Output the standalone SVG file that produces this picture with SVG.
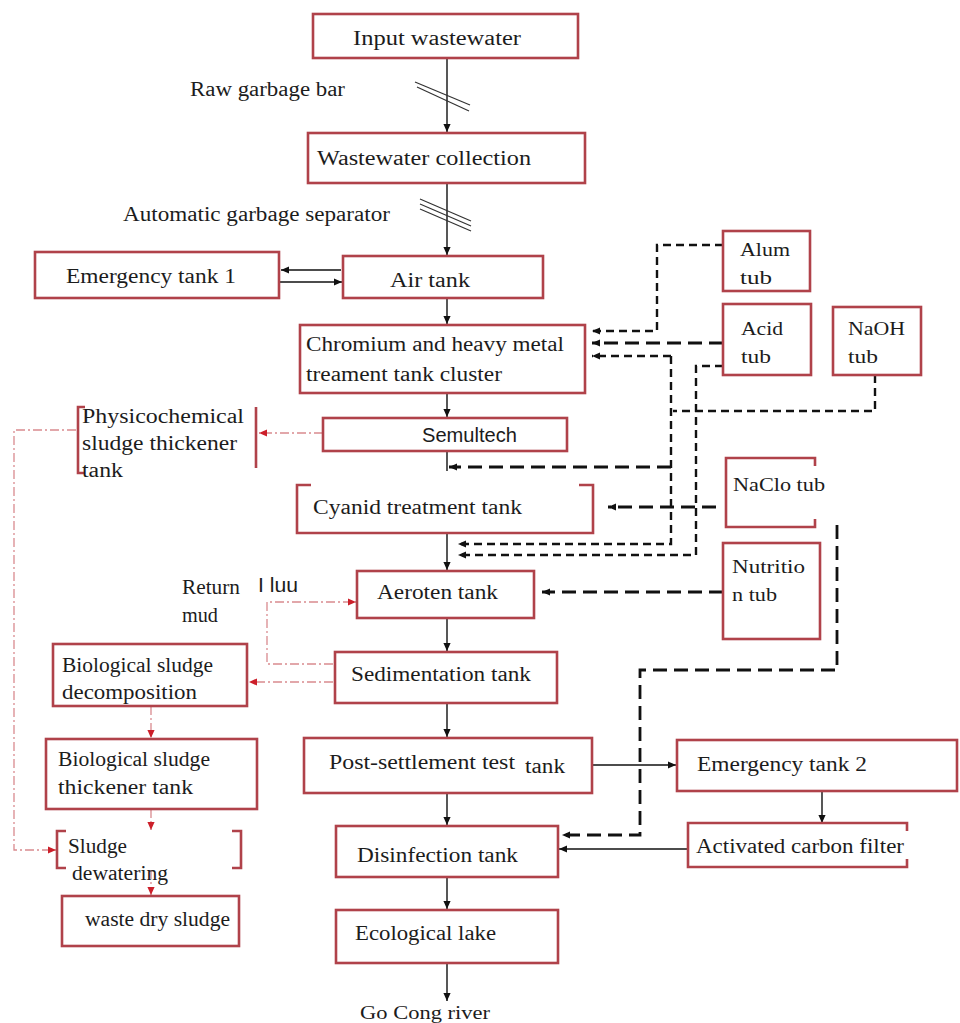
<svg xmlns="http://www.w3.org/2000/svg" width="960" height="1023" viewBox="0 0 960 1023">
<defs>
<marker id="ah" viewBox="0 0 10 10" refX="10" refY="5" markerWidth="9" markerHeight="8" markerUnits="userSpaceOnUse" orient="auto"><path d="M0,0.5 L10,5 L0,9.5 z" fill="#111"/></marker>
<marker id="ahr" viewBox="0 0 10 10" refX="10" refY="5" markerWidth="8" markerHeight="8" markerUnits="userSpaceOnUse" orient="auto"><path d="M0,0.5 L10,5 L0,9.5 z" fill="#cc1f2a"/></marker>
<style>
rect.b, path.b { fill:#fff; stroke:#b0424a; stroke-width:2.6; }
path.b { fill:none; }
text { font-family:"Liberation Serif","Times New Roman",serif; font-size:20px; fill:#1c1c1c; }
text.s { font-size:18px; }
text.sans { font-family:"Liberation Sans",Arial,sans-serif; }
.solid { fill:none; stroke:#111; stroke-width:1.4; marker-end:url(#ah); }
.plain { fill:none; stroke:#111; stroke-width:1.4; }
.dash { fill:none; stroke:#111; stroke-width:2.4; stroke-dasharray:8 5; }
.dashL { fill:none; stroke:#111; stroke-width:2.8; stroke-dasharray:14 7; }
.red { fill:none; stroke:#d98a8f; stroke-width:1.3; stroke-dasharray:9 3 2 3; marker-end:url(#ahr); }
.hatch { stroke:#333; stroke-width:1.2; }
</style>
</defs>
<rect width="960" height="1023" fill="#fff"/>

<g id="connectors">
  <!-- main flow -->
  <path class="solid" d="M447,58 V132"/>
  <path class="solid" d="M447,183 V255"/>
  <path class="solid" d="M447,298 V324"/>
  <path class="solid" d="M447,393 V417"/>
  <path class="plain" d="M447,451 V471"/>
  <path class="solid" d="M447,533 V570"/>
  <path class="solid" d="M447,618 V651"/>
  <path class="solid" d="M447,703 V737"/>
  <path class="solid" d="M447,793 V825"/>
  <path class="solid" d="M447,877 V909"/>
  <path class="solid" d="M447,963 V1001"/>
  <path class="solid" d="M341,270 H281"/>
  <path class="solid" d="M279,282 H342"/>
  <path class="solid" d="M592,765 H676"/>
  <path class="solid" d="M822,791 V823"/>
  <path class="solid" d="M688,849 H559"/>
  <!-- garbage hatches -->
  <line class="hatch" x1="415" y1="82" x2="470" y2="105"/>
  <line class="hatch" x1="417" y1="87" x2="469" y2="111"/>
  <line class="hatch" x1="420" y1="199" x2="471" y2="221"/>
  <line class="hatch" x1="420" y1="204" x2="471" y2="226"/>
  <line class="hatch" x1="420" y1="209" x2="471" y2="231"/>
  <!-- chemical dosing (dashed) -->
  <path class="dash" d="M723,245 H657 V331 H592" marker-end="url(#ah)"/>
  <path class="dashL" d="M723,343 H592" marker-end="url(#ah)"/>
  <path class="dash" d="M671,356 H592" marker-end="url(#ah)"/>
  <path class="dash" d="M671,356 V544 H458" marker-end="url(#ah)"/>
  <path class="dashL" d="M671,467 H449" marker-end="url(#ah)"/>
  <path class="dash" d="M723,366 H696 V555 H458" marker-end="url(#ah)"/>
  <path class="dash" d="M875,375 V411 H673"/>
  <path class="dashL" d="M716,507 H608" marker-end="url(#ah)"/>
  <path class="dashL" d="M837,525 V670 H640 V835 H562" marker-end="url(#ah)"/>
  <path class="dashL" d="M723,592 H542" marker-end="url(#ah)"/>
  <!-- sludge lines (red dash-dot) -->
  <path class="red" d="M323,433 H259"/>
  <path class="red" d="M76,430 H14 V850 H56"/>
  <path class="red" d="M333,682 H249"/>
  <path class="red" d="M333,664 H267 V602 H356"/>
  <path class="red" d="M151,706 V738"/>
  <path class="red" d="M151,809 V830"/>
  <path class="red" d="M151,870 V895"/>
</g>

<g id="labels">
  <text x="190" y="96" textLength="155" lengthAdjust="spacingAndGlyphs">Raw garbage bar</text>
  <text x="123" y="221" textLength="267" lengthAdjust="spacingAndGlyphs">Automatic garbage separator</text>
  <text x="182" y="594" textLength="58" lengthAdjust="spacingAndGlyphs">Return</text>
  <text x="182" y="622" textLength="36" lengthAdjust="spacingAndGlyphs">mud</text>
  <text class="sans" x="258" y="592" font-size="17" fill="#555" textLength="40" lengthAdjust="spacingAndGlyphs">I luu</text>
  <text x="360" y="1019" class="s" textLength="130" lengthAdjust="spacingAndGlyphs">Go Cong river</text>
</g>

<g id="input"><rect class="b" x="313" y="14" width="265" height="44"/><text x="353" y="45" textLength="168" lengthAdjust="spacingAndGlyphs">Input wastewater</text></g>
<g id="collection"><rect class="b" x="308" y="133" width="277" height="50"/><text x="317" y="165" textLength="214" lengthAdjust="spacingAndGlyphs">Wastewater collection</text></g>
<g id="emergency1"><rect class="b" x="35" y="252" width="244" height="46"/><text x="66" y="283" textLength="170" lengthAdjust="spacingAndGlyphs">Emergency tank 1</text></g>
<g id="airtank"><rect class="b" x="343" y="256" width="200" height="42"/><text x="390" y="287" textLength="80" lengthAdjust="spacingAndGlyphs">Air tank</text></g>
<g id="chromium"><rect class="b" x="300" y="325" width="285" height="68"/><text x="306" y="351" textLength="258" lengthAdjust="spacingAndGlyphs">Chromium and heavy metal</text><text x="306" y="381" textLength="196" lengthAdjust="spacingAndGlyphs">treament tank cluster</text></g>
<g id="semultech"><rect class="b" x="323" y="418" width="244" height="33"/><text class="sans" x="422" y="442" font-size="22" textLength="95" lengthAdjust="spacingAndGlyphs">Semultech</text></g>
<g id="physico"><path class="b" d="M85,407 H78 V473 H85 M256,407 V468"/><text x="82" y="423" textLength="162" lengthAdjust="spacingAndGlyphs">Physicochemical</text><text x="82" y="450" textLength="155" lengthAdjust="spacingAndGlyphs">sludge thickener</text><text x="82" y="477" textLength="41" lengthAdjust="spacingAndGlyphs">tank</text></g>
<g id="cyanid"><path class="b" d="M311,485 H297 V533 H593 V485 H579"/><text x="313" y="514" textLength="209" lengthAdjust="spacingAndGlyphs">Cyanid treatment tank</text></g>
<g id="aeroten"><rect class="b" x="357" y="571" width="177" height="47"/><text x="377" y="599" textLength="121" lengthAdjust="spacingAndGlyphs">Aeroten tank</text></g>
<g id="sedimentation"><rect class="b" x="335" y="652" width="222" height="51"/><text x="351" y="681" textLength="180" lengthAdjust="spacingAndGlyphs">Sedimentation tank</text></g>
<g id="postsettle"><rect class="b" x="304" y="738" width="288" height="55"/><text x="329" y="769" textLength="186" lengthAdjust="spacingAndGlyphs">Post-settlement test</text><text x="525" y="773" textLength="40" lengthAdjust="spacingAndGlyphs">tank</text></g>
<g id="emergency2"><rect class="b" x="677" y="740" width="280" height="51"/><text x="697" y="771" textLength="170" lengthAdjust="spacingAndGlyphs">Emergency tank 2</text></g>
<g id="carbon"><path class="b" d="M907,831 V823 H688 V867 H907 V859"/><text x="696" y="853" textLength="208" lengthAdjust="spacingAndGlyphs">Activated carbon filter</text></g>
<g id="disinfection"><rect class="b" x="336" y="826" width="222" height="51"/><text x="357" y="862" textLength="161" lengthAdjust="spacingAndGlyphs">Disinfection tank</text></g>
<g id="lake"><rect class="b" x="336" y="910" width="222" height="53"/><text x="355" y="940" textLength="141" lengthAdjust="spacingAndGlyphs">Ecological lake</text></g>
<g id="biodecomp"><rect class="b" x="53" y="644" width="194" height="62"/><text x="62" y="672" textLength="151" lengthAdjust="spacingAndGlyphs">Biological sludge</text><text x="62" y="699" textLength="135" lengthAdjust="spacingAndGlyphs">decomposition</text></g>
<g id="biothick"><rect class="b" x="46" y="739" width="211" height="70"/><text x="58" y="766" textLength="152" lengthAdjust="spacingAndGlyphs">Biological sludge</text><text x="58" y="794" textLength="135" lengthAdjust="spacingAndGlyphs">thickener tank</text></g>
<g id="dewater"><path class="b" d="M66,831 H57 V868 H66 M232,831 H241 V868 H232"/><text x="68" y="853" textLength="59" lengthAdjust="spacingAndGlyphs">Sludge</text><text x="72" y="880" textLength="96" lengthAdjust="spacingAndGlyphs">dewatering</text></g>
<g id="drysludge"><rect class="b" x="62" y="896" width="177" height="50"/><text x="85" y="926" textLength="145" lengthAdjust="spacingAndGlyphs">waste dry sludge</text></g>
<g id="alum"><rect class="b" x="723" y="231" width="87" height="60"/><text class="s" x="740" y="256" textLength="50" lengthAdjust="spacingAndGlyphs">Alum</text><text class="s" x="740" y="284" textLength="32" lengthAdjust="spacingAndGlyphs">tub</text></g>
<g id="acid"><rect class="b" x="723" y="304" width="88" height="71"/><text class="s" x="741" y="335" textLength="42" lengthAdjust="spacingAndGlyphs">Acid</text><text class="s" x="741" y="363" textLength="30" lengthAdjust="spacingAndGlyphs">tub</text></g>
<g id="naoh"><rect class="b" x="833" y="307" width="88" height="68"/><text class="s" x="848" y="335" textLength="57" lengthAdjust="spacingAndGlyphs">NaOH</text><text class="s" x="848" y="363" textLength="30" lengthAdjust="spacingAndGlyphs">tub</text></g>
<g id="naclo"><path class="b" d="M815,466 V458 H726 V527 H815 V519"/><text class="s" x="733" y="491" textLength="92" lengthAdjust="spacingAndGlyphs">NaClo tub</text></g>
<g id="nutrition"><rect class="b" x="723" y="543" width="97" height="96"/><text class="s" x="732" y="573" textLength="73" lengthAdjust="spacingAndGlyphs">Nutritio</text><text class="s" x="732" y="601" textLength="45" lengthAdjust="spacingAndGlyphs">n tub</text></g>
</svg>
